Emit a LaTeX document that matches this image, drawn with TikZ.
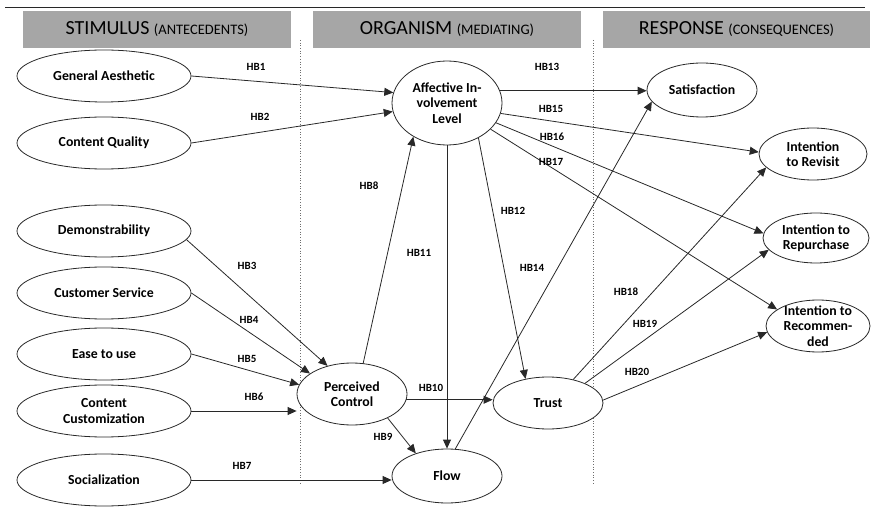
\documentclass[tikz,border=0pt]{standalone}
\usepackage{fontspec}
\setmainfont{Carlito}
\usetikzlibrary{shapes.geometric,arrows.meta}
\definecolor{linec}{RGB}{40,40,40}
\definecolor{hdrfill}{RGB}{166,166,166}
\definecolor{dotc}{RGB}{110,110,110}

\tikzset{
  ell/.style={ellipse, draw=linec, line width=0.8pt, inner sep=0pt, fill=white},
  big/.style={ell, minimum width=174pt, minimum height=52pt},
  lbl/.style={align=center, inner sep=0pt, text=black,
    font=\bfseries\fontsize{13.8}{15.5}\selectfont},
  hb/.style={inner sep=0pt, font=\bfseries\fontsize{11}{12}\selectfont},
  hdr/.style={fill=hdrfill, draw=none, minimum width=268pt, minimum height=37pt,
    inner sep=0pt, font=\fontsize{20}{22}\selectfont},
  arr/.style={draw=linec, line width=0.8pt, -{Triangle[length=9pt,width=8pt]}},
  divider/.style={draw=dotc, line width=0.7pt, dotted}
}
\newcommand{\hsub}[1]{{\fontsize{14.5}{15}\selectfont #1}}

\begin{document}
\begin{tikzpicture}[x=1pt,y=-1pt]
\useasboundingbox (0,0) rectangle (872,518);

% top rule and column dividers
\draw[line width=0.8pt, linec] (5,7) -- (865,7);
\draw[divider] (300,40) -- (300,485);
\draw[divider] (593,40) -- (593,485);

% column headers
\node[hdr] (hs) at (157,29.5) {STIMULUS \hsub{(ANTECEDENTS)}};
\node[hdr] (ho) at (447,29.5) {ORGANISM \hsub{(MEDIATING)}};
\node[hdr, minimum width=267pt] (hr) at (736.5,29.5) {RESPONSE \hsub{(CONSEQUENCES)}};

% stimulus constructs
\node[big, label={[lbl]center:General Aesthetic}] (ga) at (104,76) {};
\node[big, label={[lbl]center:Content Quality}] (cq) at (104,143) {};
\node[big, label={[lbl]center:Demonstrability}] (dem) at (104,231) {};
\node[big, label={[lbl]center:Customer Service}] (cs) at (104,293) {};
\node[big, label={[lbl]center:Ease to use}] (eu) at (104,354) {};
\node[big, label={[lbl]center:{Content\\Customization}}] (cc) at (104,411) {};
\node[big, label={[lbl]center:Socialization}] (soc) at (104,480) {};

% organism constructs
\node[ell, minimum width=110pt, minimum height=84pt,
  label={[lbl]center:{Affective In-\\volvement\\Level}}] (ail) at (447,103) {};
\node[ell, minimum width=110pt, minimum height=62pt,
  label={[lbl]center:{Perceived\\Control}}] (pc) at (352,394) {};
\node[ell, minimum width=110pt, minimum height=54pt,
  label={[lbl]center:Flow}] (flow) at (447,476) {};
\node[ell, minimum width=110pt, minimum height=52pt,
  label={[lbl]center:Trust}] (trust) at (548,403) {};

% response constructs
\node[ell, minimum width=110pt, minimum height=54pt,
  label={[lbl]center:Satisfaction}] (sat) at (702,90) {};
\node[ell, minimum width=108pt, minimum height=52pt,
  label={[lbl]center:{Intention\\to Revisit}}] (rev) at (813,154) {};
\node[ell, minimum width=106pt, minimum height=50pt,
  label={[lbl]center:{Intention to\\Repurchase}}] (rep) at (816,238) {};
\node[ell, minimum width=104pt, minimum height=52pt,
  label={[lbl]center:{Intention to\\Recommen-\\ded}}] (rec) at (818,326) {};

% hypothesised paths
\draw[arr] (ga.east) -- (ail.169);
\draw[arr] (cq.east) -- (ail.189);
\draw[arr] (dem.-6) -- (pc.131);
\draw[arr] (cs.east) -- (pc.154);
\draw[arr] (eu.east) -- (pc.170);
\draw[arr] (cc.east) -- (cc.east -| pc.west);
\draw[arr] (soc.east) -- (soc.east -| flow.west);
\draw[arr] (pc.70) -- (ail.225);
\draw[arr] (pc.-34) -- (flow.144);
\draw[arr] (pc.-6) -- (pc.-6 -| trust.west);
\draw[arr] (ail.south) -- (flow.north);
\draw[arr] (ail.-48) -- (trust.133);
\draw[arr] (ail.13) -- (ail.13 -| sat.west);
\draw[arr] (flow.73) -- (sat.193);
\draw[arr] (ail.-11) -- (rev.178);
\draw[arr] (ail.-22) -- (rep.175);
\draw[arr] (ail.-31) -- (rec.158);
\draw[arr] (trust.43) -- (rev.196);
\draw[arr] (trust.28) -- (rep.194);
\draw[arr] (trust.3) -- (rec.187);

% path labels
\node[hb] (l1) at (256,67) {HB1};
\node[hb] (l2) at (260,117) {HB2};
\node[hb] (l3) at (247,266) {HB3};
\node[hb] (l4) at (249,320) {HB4};
\node[hb] (l5) at (247,359) {HB5};
\node[hb] (l6) at (254,397) {HB6};
\node[hb] (l7) at (242,466) {HB7};
\node[hb] (l8) at (369,186) {HB8};
\node[hb] (l9) at (383,437) {HB9};
\node[hb] (l10) at (431,388) {HB10};
\node[hb] (l11) at (419,253) {HB11};
\node[hb] (l12) at (513,211) {HB12};
\node[hb] (l13) at (547,67) {HB13};
\node[hb] (l14) at (532,268) {HB14};
\node[hb] (l15) at (551,109) {HB15};
\node[hb] (l16) at (552,137) {HB16};
\node[hb] (l17) at (551,162) {HB17};
\node[hb] (l18) at (626,292) {HB18};
\node[hb] (l19) at (645,324) {HB19};
\node[hb] (l20) at (637,372) {HB20};
\end{tikzpicture}
\end{document}
